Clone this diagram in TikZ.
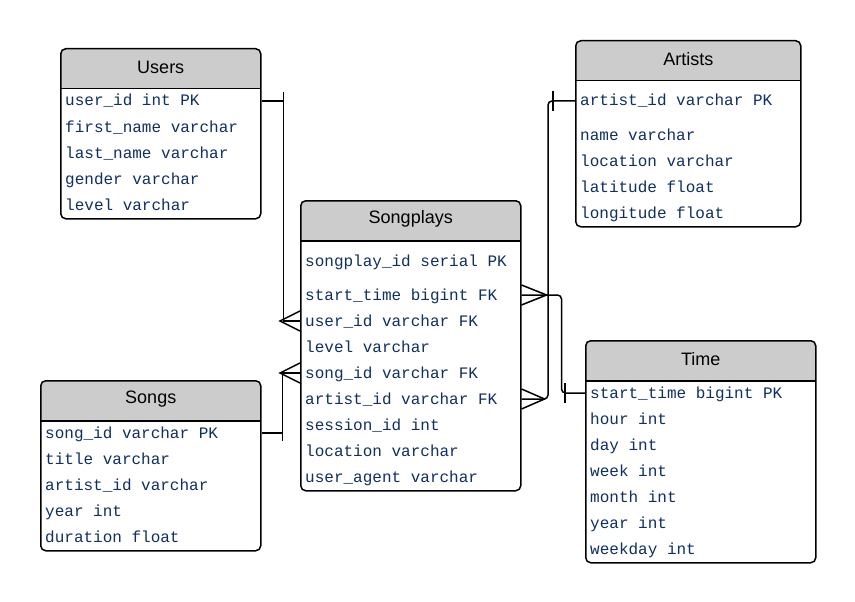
\documentclass[tikz,border=0pt]{standalone}
\usepackage{fontspec}
\setmainfont{Liberation Sans}
\setmonofont{Liberation Mono}
\usepackage{tikz}
\usetikzlibrary{positioning}
\usepackage{xcolor}
\definecolor{hdrgray}{RGB}{204,204,204}
\definecolor{fieldblue}{RGB}{16,47,99}

\tikzset{
  tbl/.style={draw, line width=1.5pt, rounded corners=5pt, inner sep=0pt, anchor=north west,
    path picture={
      \fill[hdrgray, sharp corners] (path picture bounding box.north west) rectangle ([yshift=-40pt]path picture bounding box.north east);
      \draw[line width=1.5pt, sharp corners] ([yshift=-40pt]path picture bounding box.north west) -- ([yshift=-40pt]path picture bounding box.north east);
    }},
  ttl/.style={inner sep=0pt, font=\fontsize{18}{22}\selectfont},
  fld/.style={anchor=west, inner sep=0pt, text=fieldblue, text height=10pt, text depth=0pt, font=\ttfamily\fontsize{16}{19}\selectfont},
  conn/.style={line width=1.5pt}
}

\begin{document}
\begin{tikzpicture}[x=1pt, y=-1pt]
  \useasboundingbox[fill=white] (0,0) rectangle (855,602);

  \node[tbl, minimum width=200pt, minimum height=170pt] (users) at (60,48) {};
  \node[ttl] (users-t) at ([yshift=-19pt]users.north) {Users};
  \node[fld] (u-userid) at (65,101) {user\_id int PK};
  \node[fld] (u-first) at (65,127) {first\_name varchar};
  \node[fld] (u-last) at (65,153) {last\_name varchar};
  \node[fld] (u-gender) at (65,179) {gender varchar};
  \node[fld] (u-level) at (65,205) {level varchar};

  \node[tbl, minimum width=225pt, minimum height=186pt] (artists) at (575,40) {};
  \node[ttl] (artists-t) at ([yshift=-19pt]artists.north) {Artists};
  \node[fld] (a-artistid) at (580,101) {artist\_id varchar PK};
  \node[fld] (a-name) at (580,135) {name varchar};
  \node[fld] (a-location) at (580,161) {location varchar};
  \node[fld] (a-lat) at (580,187) {latitude float};
  \node[fld] (a-long) at (580,213) {longitude float};

  \node[tbl, minimum width=220pt, minimum height=290pt] (songplays) at (300,200) {};
  \node[ttl] (songplays-t) at ([yshift=-19pt]songplays.north) {Songplays};
  \node[fld] (sp-id) at (305,261) {songplay\_id serial PK};
  \node[fld] (sp-starttime) at (305,295) {start\_time bigint FK};
  \node[fld] (sp-userid) at (305,321) {user\_id varchar FK};
  \node[fld] (sp-level) at (305,347) {level varchar};
  \node[fld] (sp-songid) at (305,373) {song\_id varchar FK};
  \node[fld] (sp-artistid) at (305,399) {artist\_id varchar FK};
  \node[fld] (sp-session) at (305,425) {session\_id int};
  \node[fld] (sp-location) at (305,451) {location varchar};
  \node[fld] (sp-agent) at (305,477) {user\_agent varchar};

  \node[tbl, minimum width=220pt, minimum height=170pt] (songs) at (40,380) {};
  \node[ttl] (songs-t) at ([yshift=-19pt]songs.north) {Songs};
  \node[fld] (s-songid) at (45,433) {song\_id varchar PK};
  \node[fld] (s-title) at (45,459) {title varchar};
  \node[fld] (s-artistid) at (45,485) {artist\_id varchar};
  \node[fld] (s-year) at (45,511) {year int};
  \node[fld] (s-duration) at (45,537) {duration float};

  \node[tbl, minimum width=230pt, minimum height=222pt] (time) at (585,340) {};
  \node[ttl] (time-t) at ([yshift=-19pt]time.north) {Time};
  \node[fld] (t-starttime) at (590,393) {start\_time bigint PK};
  \node[fld] (t-hour) at (590,419) {hour int};
  \node[fld] (t-day) at (590,445) {day int};
  \node[fld] (t-week) at (590,471) {week int};
  \node[fld] (t-month) at (590,497) {month int};
  \node[fld] (t-year) at (590,523) {year int};
  \node[fld] (t-weekday) at (590,549) {weekday int};

  \coordinate (u-out) at (users.east |- u-userid);
  \coordinate (sp-in1) at (songplays.west |- sp-userid);
  \draw[conn] (u-out) -- ++(22,0) |- (sp-in1);
  \draw[conn] ([xshift=22pt, yshift=9pt]u-out) -- ++(0,18);
  \draw[conn] ([yshift=10pt]sp-in1) -- ([xshift=-20pt]sp-in1) -- ([yshift=-10pt]sp-in1);

  \coordinate (s-out) at (songs.east |- s-songid);
  \coordinate (sp-in2) at (songplays.west |- sp-songid);
  \draw[conn] (s-out) -- ++(21,0) |- (sp-in2);
  \draw[conn] ([xshift=21pt, yshift=8pt]s-out) -- ++(0,16);
  \draw[conn] ([yshift=10pt]sp-in2) -- ([xshift=-20pt]sp-in2) -- ([yshift=-10pt]sp-in2);

  \coordinate (a-out) at (artists.west |- a-artistid);
  \coordinate (sp-out1) at (songplays.east |- sp-artistid);
  \draw[conn, rounded corners=4pt] (a-out) -- ++(-27,0) |- (sp-out1);
  \draw[conn] ([xshift=-22pt, yshift=10pt]a-out) -- ++(0,20);
  \draw[conn] ([yshift=10pt]sp-out1) -- ([xshift=23pt]sp-out1) -- ([yshift=-10pt]sp-out1);

  \coordinate (sp-out2) at (songplays.east |- sp-starttime);
  \coordinate (t-in) at (time.west |- t-starttime);
  \draw[conn, rounded corners=4pt] (sp-out2) -- ++(40,0) |- (t-in);
  \draw[conn] ([xshift=-20pt, yshift=10pt]t-in) -- ++(0,20);
  \draw[conn] ([yshift=10pt]sp-out2) -- ([xshift=25pt]sp-out2) -- ([yshift=-10pt]sp-out2);
\end{tikzpicture}
\end{document}
